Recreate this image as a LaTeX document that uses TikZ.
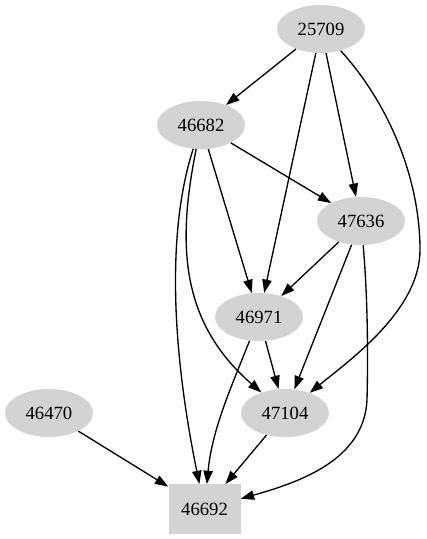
\documentclass[tikz,border=0pt]{standalone}
\usepackage{fontspec}
\setmainfont{Liberation Serif}
\usetikzlibrary{shapes.geometric,arrows.meta}
\definecolor{gvgray}{HTML}{D3D3D3}
\begin{document}
\begin{tikzpicture}[x=0.75pt,y=-0.75pt,
  nd/.style={ellipse,fill=gvgray,minimum width=66pt,minimum height=36pt,inner sep=0pt,font=\fontsize{14}{16}\selectfont},
  bx/.style={rectangle,fill=gvgray,minimum width=54pt,minimum height=37pt,inner sep=0pt,font=\fontsize{14}{16}\selectfont},
  edge/.style={-{Triangle[length=10pt,width=7pt]},line width=1pt}]
\useasboundingbox (0,0) rectangle (427,539);
\node[nd] (n25709) at (321,29) {25709};
\node[nd] (n46682) at (201,125) {46682};
\node[nd] (n47636) at (361,221) {47636};
\node[nd] (n46971) at (259,317) {46971};
\node[nd] (n46470) at (49,413) {46470};
\node[nd] (n47104) at (285,413) {47104};
\node[bx] (n46692) at (204.5,509) {46692};

\draw[edge] (n25709) -- (n46682);
\draw[edge] (n25709) -- (n46971);
\draw[edge] (n25709) -- (n47636);
\coordinate (m1) at (420,250);
\draw[edge] (n25709) .. controls (390,105) and (420,180) .. (m1) .. controls (420,310) and (350,360) .. (n47104);
\draw[edge] (n46682) -- (n47636);
\draw[edge] (n46682) -- (n46971);
\draw[edge] (n46682) .. controls (170,220) and (168,330) .. (n46692);
\draw[edge] (n46682) .. controls (178,240) and (178,320) .. (n47104);
\draw[edge] (n47636) -- (n46971);
\draw[edge] (n47636) -- (n47104);
\coordinate (m2) at (367,400);
\draw[edge] (n47636) .. controls (368,300) and (368,360) .. (m2) .. controls (364,460) and (300,482) .. (n46692);
\draw[edge] (n46971) -- (n47104);
\draw[edge] (n46971) .. controls (230,390) and (212,430) .. (n46692);
\draw[edge] (n47104) -- (n46692);
\draw[edge] (n46470) -- (n46692);
\end{tikzpicture}
\end{document}
